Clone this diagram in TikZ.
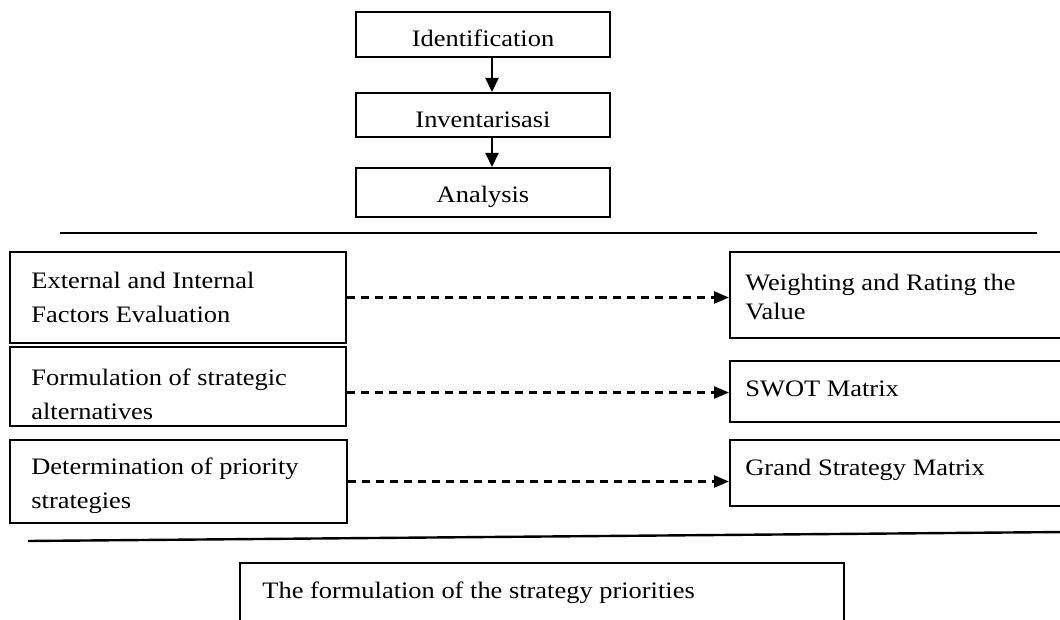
\documentclass[tikz,border=0pt]{standalone}
\usepackage{fontspec}
\setmainfont{Liberation Serif}[FakeStretch=1.12]
\usetikzlibrary{positioning,fit,arrows.meta}

\tikzset{
  box/.style={draw, line width=1pt, inner sep=0pt},
  lbl/.style={inner sep=0pt, anchor=base west, align=left, font=\fontsize{11.8}{17}\selectfont},
  flow/.style={line width=1pt, -{Triangle[length=7pt,width=6.5pt]}},
  dflow/.style={line width=1.3pt, dash pattern=on 4pt off 3pt, -{Triangle[length=7.5pt,width=6pt]}},
  rule/.style={line width=1.2pt}
}

\begin{document}
\begin{tikzpicture}[x=0.5pt, y=-0.5pt]
\useasboundingbox (0,0) rectangle (1060,620);
%
    \node[box, fit={(356,12) (610,57)}] (ident) {};
    \node[box, fit={(356,93) (610,137)}] (invent) {};
    \node[box, fit={(356,168) (610,217)}] (analysis) {};
    \node[lbl, anchor=base] (identtxt) at (483,47) {Identification};
    \node[lbl, anchor=base] (inventtxt) at (483,128) {Inventarisasi};
    \node[lbl, anchor=base] (analysistxt) at (483,203) {Analysis};
    \draw[flow] ([xshift=4.5pt]ident.south) -- ([xshift=4.5pt]invent.north);
    \draw[flow] ([xshift=4.5pt]invent.south) -- ([xshift=4.5pt]analysis.north);
%
    \draw[rule] (60,233) -- (1037,233);
%
    \node[box, fit={(10,252) (346,343)}] (efe) {};
    \node[box, fit={(10,347) (346,426)}] (formul) {};
    \node[box, fit={(10,440) (347,523)}] (determ) {};
    % base = last line
    \node[lbl] (efetxt) at (31,322) {External and Internal\\Factors Evaluation};
    \node[lbl] (formultxt) at (31,419) {Formulation of strategic\\alternatives};
    \node[lbl] (determtxt) at (31,508) {Determination of priority\\strategies};
%
    \node[box, fit={(730,252) (1075,338)}] (weight) {};
    \node[box, fit={(730,361) (1075,422)}] (swot) {};
    \node[box, fit={(730,440) (1075,506)}] (grand) {};
    \node[lbl, font=\fontsize{11.8}{14.5}\selectfont] (weighttxt) at (745,320) {Weighting and Rating the\\Value};
    \node[lbl] (swottxt) at (745,396) {SWOT Matrix};
    \node[lbl] (grandtxt) at (745,475) {Grand Strategy Matrix};
%
    \coordinate (fout) at ([yshift=-3pt]formul.east);
    \draw[dflow] (efe.east) -- (efe.east -| weight.west);
    \draw[dflow] (fout) -- (fout -| swot.west);
    \draw[dflow] (determ.east) -- (determ.east -| grand.west);
%
    \draw[rule] (28,541) -- (1065,532);
%
    \node[box, fit={(240,563) (844,640)}] (prior) {};
    \node[lbl] (priortxt) at (262,598) {The formulation of the strategy priorities};
\end{tikzpicture}
\end{document}
